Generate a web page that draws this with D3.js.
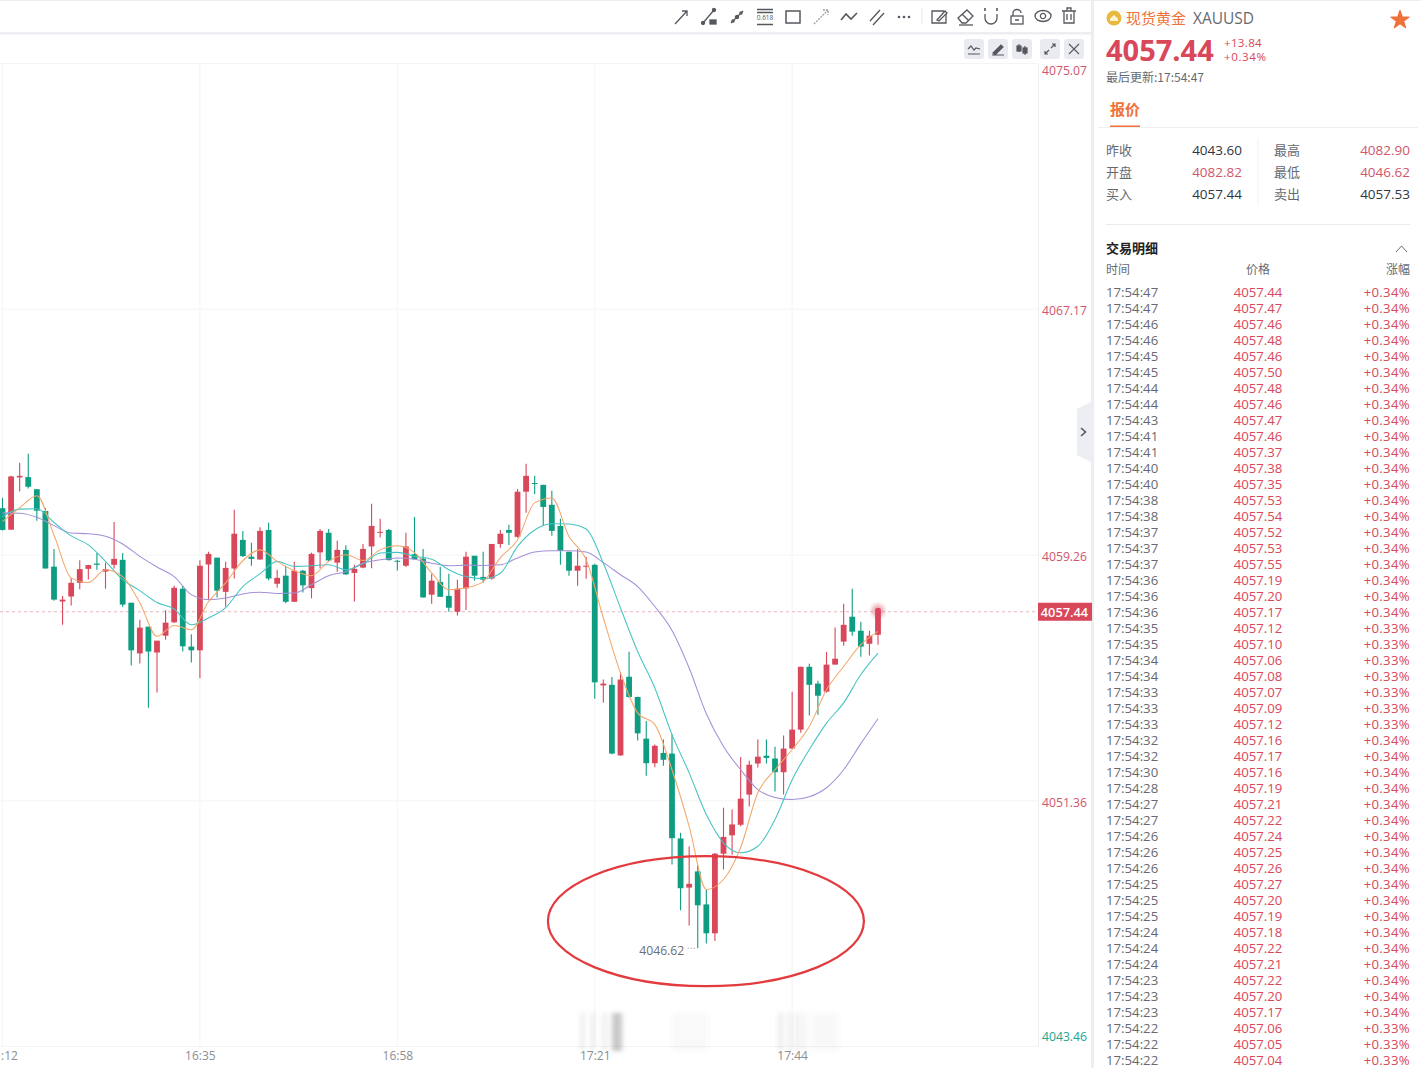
<!DOCTYPE html>
<html lang="zh-CN">
<head>
    <meta charset="UTF-8">
    <title>现货黄金 XAUUSD</title>
    <script src="https://d3js.org/d3.v7.min.js"></script>
    <style>
        html, body { margin: 0; padding: 0; background: #fff; overflow: hidden; }
        svg { display: block; }
        text { font-family: "Open Sans", "Noto Sans CJK SC", sans-serif; }
        .cjk { font-family: "Noto Sans CJK SC", sans-serif; }
    </style>
</head>
<body>
    <div id="chart"></div>
    <script>
        const width = 1421, height = 1068;

        // one candle per minute, starting 16:12
        const startMinute = 16 * 60 + 12;
        const opens = [4060.77,4060.08,4061.76,4061.77,4061.38,4060.68,4058.89,4057.77,4057.93,4058.37,4058.82,4058.99,4058.73,4058.95,4059.11,4057.73,4056.10,4056.96,4056.13,4056.67,4057.10,4058.18,4056.32,4056.20,4058.96,4059.18,4058.08,4058.83,4059.75,4059.21,4059.12,4060.07,4058.34,4058.60,4057.76,4058.76,4058.20,4059.35,4059.98,4059.02,4059.43,4058.69,4058.86,4059.54,4059.98,4060.07,4059.08,4058.92,4059.29,4059.15,4057.99,4058.40,4057.95,4057.44,4058.19,4059.24,4058.56,4058.51,4059.62,4060.07,4059.85,4061.30,4061.58,4061.52,4060.88,4060.20,4059.37,4058.76,4058.89,4058.95,4055.07,4055.09,4052.82,4055.35,4054.70,4053.36,4052.57,4052.90,4052.88,4050.15,4048.57,4049.09,4048.03,4047.10,4049.66,4050.25,4050.59,4051.56,4052.56,4052.81,4052.72,4052.28,4053.04,4053.65,4055.67,4055.13,4054.87,4055.74,4056.48,4057.28,4056.83,4056.41,4056.70];
        const highs = [4061.10,4061.81,4062.23,4062.52,4061.39,4060.78,4059.46,4057.95,4058.52,4059.10,4058.95,4059.33,4059.02,4060.33,4059.33,4057.73,4057.18,4056.96,4056.51,4057.49,4058.28,4058.28,4056.72,4059.10,4059.37,4059.18,4059.05,4060.72,4060.04,4059.66,4060.16,4060.30,4058.79,4058.92,4059.05,4058.79,4059.34,4060.10,4060.10,4059.72,4059.58,4058.95,4059.62,4060.91,4060.43,4060.10,4059.11,4059.98,4060.49,4059.46,4058.66,4058.89,4058.66,4058.47,4059.37,4059.24,4059.37,4059.62,4060.07,4060.24,4061.39,4062.20,4061.81,4061.52,4061.33,4060.43,4059.37,4059.46,4059.21,4058.98,4055.26,4055.34,4055.50,4056.15,4054.71,4053.93,4053.17,4053.33,4053.49,4050.33,4049.90,4049.28,4048.49,4049.68,4051.14,4051.08,4052.77,4052.65,4053.33,4053.33,4053.10,4053.46,4054.87,4055.67,4055.77,4055.22,4056.15,4056.93,4057.70,4058.18,4057.12,4056.83,4057.44];
        const lows = [4060.05,4060.07,4061.31,4061.40,4060.37,4058.83,4057.79,4057.02,4057.64,4058.16,4058.48,4058.79,4058.18,4058.83,4057.59,4055.71,4055.78,4054.35,4054.84,4056.54,4057.08,4056.16,4055.81,4055.30,4057.83,4057.90,4057.60,4058.51,4059.20,4058.92,4059.11,4058.45,4058.21,4057.71,4057.76,4058.06,4057.87,4058.84,4059.06,4058.73,4058.63,4057.77,4058.84,4058.84,4059.83,4059.09,4058.77,4058.88,4059.13,4057.90,4057.70,4057.92,4057.44,4057.32,4057.50,4058.44,4058.37,4058.47,4059.50,4059.59,4059.82,4060.62,4061.23,4060.20,4059.88,4058.95,4058.60,4058.28,4058.50,4054.64,4054.51,4052.86,4052.81,4054.67,4053.30,4052.17,4052.44,4052.49,4049.31,4047.84,4047.35,4046.62,4046.77,4046.85,4049.15,4049.63,4050.54,4051.18,4052.43,4052.56,4051.66,4051.56,4053.04,4053.55,4054.10,4054.13,4054.84,4055.74,4056.35,4056.67,4055.99,4056.03,4056.38];
        const closes = [4060.07,4061.79,4061.81,4061.46,4060.69,4058.83,4057.83,4057.83,4058.37,4058.81,4058.94,4058.95,4058.81,4059.14,4057.67,4056.20,4056.93,4056.16,4056.51,4057.09,4058.21,4056.33,4056.20,4058.92,4059.30,4058.12,4058.85,4059.95,4059.23,4059.14,4060.04,4058.51,4058.53,4057.76,4058.76,4058.29,4059.30,4060.04,4059.09,4059.43,4058.64,4058.82,4059.46,4060.20,4060.01,4059.10,4059.05,4059.54,4059.13,4057.90,4058.44,4057.92,4057.57,4058.18,4059.21,4058.60,4058.47,4059.62,4059.95,4059.98,4061.30,4061.81,4061.55,4060.81,4060.04,4059.40,4058.76,4058.92,4058.92,4055.17,4055.13,4052.88,4055.26,4054.70,4053.53,4052.57,4053.13,4052.68,4050.16,4048.55,4048.69,4048.00,4047.10,4049.66,4050.20,4050.60,4051.43,4052.52,4052.78,4052.74,4052.28,4053.04,4053.65,4055.67,4055.09,4054.74,4055.74,4055.93,4057.02,4056.80,4056.32,4056.67,4057.44];

        const maIndex = d3.range(52).map(i => i * 2);
        const ma5 = [4060.34,4060.78,4061.17,4059.91,4058.53,4058.38,4058.79,4058.57,4057.73,4056.65,4057.00,4056.86,4057.76,4058.37,4059.08,4059.43,4059.06,4058.76,4058.60,4059.06,4059.27,4059.09,4059.43,4059.56,4059.34,4058.69,4058.15,4058.21,4058.41,4059.18,4059.75,4060.94,4061.10,4059.86,4059.11,4057.24,4055.47,4054.19,4053.81,4052.36,4050.54,4048.51,4048.83,4049.86,4051.62,4052.36,4053.01,4053.75,4054.93,4055.68,4056.38,4056.81];
        const ma10 = [4060.50,4060.74,4060.75,4060.31,4059.88,4059.59,4059.06,4058.47,4058.12,4057.74,4057.53,4057.02,4057.24,4057.57,4058.25,4058.66,4059.06,4058.90,4058.92,4058.95,4058.79,4058.98,4059.33,4059.35,4059.22,4059.13,4058.79,4058.57,4058.50,4058.68,4059.54,4060.07,4060.27,4060.26,4060.10,4059.00,4057.56,4056.16,4054.99,4053.49,4052.26,4050.92,4050.01,4049.69,4049.90,4050.76,4052.04,4053.01,4053.86,4054.51,4055.42,4056.11];
        const ma30 = [4060.62,4060.61,4060.48,4060.21,4059.97,4059.95,4059.87,4059.62,4059.22,4058.88,4058.57,4057.99,4057.83,4057.88,4058.01,4058.07,4058.03,4058.04,4058.31,4058.60,4058.73,4059.00,4059.11,4059.17,4059.13,4059.00,4058.92,4058.94,4058.93,4058.95,4059.17,4059.36,4059.40,4059.40,4059.36,4059.02,4058.63,4058.25,4057.61,4056.84,4055.63,4054.16,4053.11,4052.36,4051.72,4051.47,4051.40,4051.49,4051.78,4052.36,4053.20,4054.00];

        const priceTicks = [4043.46, 4051.36, 4059.26, 4067.17, 4075.07];
        const timeTicks = [0, 23, 46, 69, 92];
        const lastPrice = 4057.44, lowPrice = 4046.62, lowIndex = 81;

        // quote panel
        const quoteLeft = [["昨收", "4043.60", 0], ["开盘", "4082.82", 1], ["买入", "4057.44", 0]];
        const quoteRight = [["最高", "4082.90", 1], ["最低", "4046.62", 1], ["卖出", "4057.53", 0]];
        const tradeTimes = ["17:54:47","17:54:47","17:54:46","17:54:46","17:54:45","17:54:45","17:54:44","17:54:44","17:54:43","17:54:41","17:54:41","17:54:40","17:54:40","17:54:38","17:54:38","17:54:37","17:54:37","17:54:37","17:54:36","17:54:36","17:54:36","17:54:35","17:54:35","17:54:34","17:54:34","17:54:33","17:54:33","17:54:33","17:54:32","17:54:32","17:54:30","17:54:28","17:54:27","17:54:27","17:54:26","17:54:26","17:54:26","17:54:25","17:54:25","17:54:25","17:54:24","17:54:24","17:54:24","17:54:23","17:54:23","17:54:23","17:54:22","17:54:22","17:54:22"];
        const tradePrices = ["4057.44","4057.47","4057.46","4057.48","4057.46","4057.50","4057.48","4057.46","4057.47","4057.46","4057.37","4057.38","4057.35","4057.53","4057.54","4057.52","4057.53","4057.55","4057.19","4057.20","4057.17","4057.12","4057.10","4057.06","4057.08","4057.07","4057.09","4057.12","4057.16","4057.17","4057.16","4057.19","4057.21","4057.22","4057.24","4057.25","4057.26","4057.27","4057.20","4057.19","4057.18","4057.22","4057.21","4057.22","4057.20","4057.17","4057.06","4057.05","4057.04"];
        const tradePcts = ["+0.34%","+0.34%","+0.34%","+0.34%","+0.34%","+0.34%","+0.34%","+0.34%","+0.34%","+0.34%","+0.34%","+0.34%","+0.34%","+0.34%","+0.34%","+0.34%","+0.34%","+0.34%","+0.34%","+0.34%","+0.34%","+0.33%","+0.33%","+0.33%","+0.33%","+0.33%","+0.33%","+0.33%","+0.34%","+0.34%","+0.34%","+0.34%","+0.34%","+0.34%","+0.34%","+0.34%","+0.34%","+0.34%","+0.34%","+0.34%","+0.34%","+0.34%","+0.34%","+0.34%","+0.34%","+0.34%","+0.33%","+0.33%","+0.33%"];

        const red = "#d9475a", green = "#0f9d82", grey = "#666a70", orange = "#f0703a";
        const axisRed = "#d0566a", axisGreen = "#22a68d";

        const svg = d3.select("#chart").append("svg").attr("width", width).attr("height", height);

        const x = d3.scaleLinear().domain([0, 102]).range([2.5, 878]);
        const y = d3.scaleLinear().domain([4043.46, 4075.07]).range([1046.5, 63.5]);
        const plotRight = 1038;

        // page frame
        svg.append("rect").attr("x", 0).attr("y", 32).attr("width", 1091).attr("height", 2.5).attr("fill", "#eceef1");
        svg.append("rect").attr("x", 0).attr("y", 0).attr("width", 1091).attr("height", 1).attr("fill", "#eceef1");
        svg.append("rect").attr("x", 1091).attr("y", 0).attr("width", 3).attr("height", height).attr("fill", "#eceef1");
        svg.append("rect").attr("x", 1094).attr("y", 0).attr("width", 327).attr("height", 1).attr("fill", "#eceef1");

        // grid
        svg.append("g").selectAll("line").data(priceTicks).enter().append("line")
            .attr("x1", 0).attr("x2", plotRight)
            .attr("y1", d => y(d)).attr("y2", d => y(d))
            .attr("stroke", "#f4f4f5");
        svg.append("g").selectAll("line").data(timeTicks).enter().append("line")
            .attr("x1", d => x(d)).attr("x2", d => x(d))
            .attr("y1", y(4075.07)).attr("y2", y(4043.46))
            .attr("stroke", "#f4f4f5");

        // right axis
        const yAxis = d3.axisRight(y).tickValues(priceTicks).tickFormat(d3.format(".2f")).tickSize(0).tickPadding(4);
        const yAxisG = svg.append("g").attr("transform", `translate(${plotRight},0)`).call(yAxis);
        yAxisG.select(".domain").attr("stroke", "#eeeff1");
        yAxisG.selectAll("text")
            .attr("font-size", 12.2)
            .attr("fill", d => d === 4043.46 ? axisGreen : axisRed)
            .attr("dy", d => d === 4075.07 ? 11 : d === 4043.46 ? -6 : 5.5);
        yAxisG.selectAll("text").attr("x", 4);

        // time axis
        const xAxis = d3.axisBottom(x).tickValues(timeTicks).tickSize(0).tickPadding(5)
            .tickFormat(d => {
                const m = startMinute + d;
                return d3.format("02")(Math.floor(m / 60)) + ":" + d3.format("02")(m % 60);
            });
        const xAxisG = svg.append("g").attr("transform", `translate(0,${y(4043.46)})`).call(xAxis);
        xAxisG.select(".domain").remove();
        xAxisG.selectAll("text").attr("font-size", 12).attr("fill", "#8b8e93");
        // the first label runs off the left edge, only its tail shows
        xAxisG.selectAll("text").filter(d => d === 0)
            .text(":12").attr("text-anchor", "start").attr("x", 0.5 - x(0));

        // last price line
        svg.append("line")
            .attr("x1", 0).attr("x2", plotRight)
            .attr("y1", y(lastPrice)).attr("y2", y(lastPrice))
            .attr("stroke", "#e4b3ba").attr("stroke-dasharray", "3,3");

        // candles
        const candles = opens.map((o, i) => ({ i, o, h: highs[i], l: lows[i], c: closes[i] }));
        const candle = svg.append("g").selectAll("g").data(candles).enter().append("g")
            .attr("fill", d => d.c >= d.o ? red : green)
            .attr("stroke", d => d.c >= d.o ? red : green);
        candle.append("line")
            .attr("x1", d => x(d.i)).attr("x2", d => x(d.i))
            .attr("y1", d => y(d.h)).attr("y2", d => y(d.l))
            .attr("stroke-width", 1.1);
        candle.append("rect")
            .attr("x", d => x(d.i) - 2.9)
            .attr("width", 5.8)
            .attr("y", d => y(Math.max(d.o, d.c)))
            .attr("height", d => Math.max(1, Math.abs(y(d.o) - y(d.c))))
            .attr("stroke", "none");

        // moving averages
        const line = d3.line().x((d, i) => x(maIndex[i])).y(d => y(d)).curve(d3.curveMonotoneX);
        [[ma30, "#a48fd8"], [ma10, "#45c3c4"], [ma5, "#f3a76a"]].forEach(([vals, col]) => {
            svg.append("path").attr("d", line(vals)).attr("fill", "none").attr("stroke", col).attr("stroke-width", 1.05);
        });

        const defs = svg.append("defs");
        defs.append("filter").attr("id", "wm").append("feGaussianBlur").attr("stdDeviation", "2.5,2");
        defs.append("filter").attr("id", "glow").append("feGaussianBlur").attr("stdDeviation", "2");

        // pulsing dot on the last candle
        svg.append("circle").attr("cx", x(102)).attr("cy", y(lastPrice) - 1).attr("r", 6.5).attr("fill", red).attr("opacity", 0.45).attr("filter", "url(#glow)");
        svg.append("circle").attr("cx", x(102)).attr("cy", y(lastPrice) - 1).attr("r", 3).attr("fill", red);

        // low marker
        svg.append("text").attr("x", x(lowIndex) - 13.5).attr("y", y(lowPrice) + 7)
            .attr("text-anchor", "end").attr("font-size", 12.2).attr("fill", "#6b6f75").text("4046.62");
        svg.append("line")
            .attr("x1", x(lowIndex) - 10).attr("x2", x(lowIndex) - 1)
            .attr("y1", y(lowPrice)).attr("y2", y(lowPrice))
            .attr("stroke", "#8b8e93").attr("stroke-dasharray", "1,2");

        // hand drawn ellipse round the low
        svg.append("ellipse")
            .attr("cx", x(81.95)).attr("cy", y(4047.49))
            .attr("rx", 158).attr("ry", 65)
            .attr("fill", "none").attr("stroke", "#e33a3e").attr("stroke-width", 2.2);

        // price tag
        svg.append("rect").attr("x", plotRight).attr("y", y(lastPrice) - 9).attr("width", 54).attr("height", 18).attr("fill", red);
        svg.append("text").attr("x", plotRight + 26.5).attr("y", y(lastPrice) + 5)
            .attr("text-anchor", "middle").attr("font-size", 12.8).attr("font-weight", 600)
            .attr("fill", "#fff").text("4057.44");

        // blurred watermark over the time axis
        const wm = svg.append("g").attr("filter", "url(#wm)");
        [[581, 3, .16], [591, 3, .14], [603, 3, .16], [612, 10, .32], [672, 36, .035], [779, 3, .18], [788, 3, .15], [796, 3, .15], [803, 3, .1], [812, 26, .04]]
            .forEach(([bx, bw, op]) => {
                wm.append("rect").attr("x", bx).attr("y", 1013).attr("width", bw).attr("height", 38).attr("fill", "#555").attr("opacity", op);
            });

        // toolbar icons
        const icon = (tx, ty, draw) => {
            const g = svg.append("g").attr("transform", `translate(${tx},${ty})`)
                .attr("fill", "none").attr("stroke", "#55585e").attr("stroke-width", 1.3);
            draw(g);
        };
        icon(681, 17, g => {
            g.append("path").attr("d", "M-6,7 L6,-6 M1,-6 H6 V-1");
        });
        icon(709, 17, g => {
            g.append("path").attr("d", "M-6,6 L5,-7");
            g.append("rect").attr("x", 1).attr("y", 3).attr("width", 6).attr("height", 4).attr("fill", "#55585e");
            g.append("circle").attr("cx", -6).attr("cy", 6).attr("r", 1.5).attr("fill", "#55585e");
            g.append("circle").attr("cx", 5).attr("cy", -7).attr("r", 1.5).attr("fill", "#55585e");
        });
        icon(737, 17, g => {
            g.append("path").attr("d", "M-6,6 L6,-6");
            g.append("circle").attr("r", 1.6).attr("fill", "#55585e");
            g.append("circle").attr("cx", -4).attr("cy", 4).attr("r", 1.1).attr("fill", "#55585e");
            g.append("circle").attr("cx", 4).attr("cy", -4).attr("r", 1.1).attr("fill", "#55585e");
        });
        icon(765, 17, g => {
            g.append("path").attr("d", "M-8,-7.5 H8 M-8,-4.5 H8 M-8,7.5 H8").attr("stroke-width", 1.6);
            g.append("text").attr("y", 3).attr("text-anchor", "middle").attr("font-size", 6.5).attr("fill", "#55585e").attr("stroke", "none").text("0.618");
        });
        icon(793, 17, g => {
            g.append("rect").attr("x", -7).attr("y", -6).attr("width", 14).attr("height", 12).attr("stroke-width", 1.5);
        });
        icon(821, 17, g => {
            g.append("path").attr("d", "M-7,7 L7,-7 M2,-7 H7 V-2").attr("stroke", "#9a9da2").attr("stroke-dasharray", "2,1");
        });
        icon(849, 17, g => {
            g.append("path").attr("d", "M-8,3 L-3,-3 L2,2 L8,-4").attr("stroke-width", 1.6);
        });
        icon(877, 17, g => {
            g.append("path").attr("d", "M-7,4 L3,-7 M-4,8 L7,-4");
        });
        icon(904, 17, g => {
            [-5, 0, 5].forEach(c => g.append("circle").attr("cx", c).attr("r", 1.3).attr("fill", "#55585e").attr("stroke", "none"));
        });
        svg.append("line").attr("x1", 922).attr("x2", 922).attr("y1", 8).attr("y2", 24).attr("stroke", "#e8e9ec");
        icon(939, 17, g => {
            g.append("path").attr("d", "M5,-6 H-7 V6 H7 V-3");
            g.append("path").attr("d", "M-2,3 L6,-6 L8,-4 L0,4 Z");
        });
        icon(965, 16, g => {
            g.append("path").attr("d", "M-7,2 L2,-6 L8,0 L1,7 H-3 Z M-3,-2 L4,5");
            g.append("path").attr("d", "M-6,9 H8");
        });
        icon(991, 16, g => {
            g.append("path").attr("d", "M-6,-2 V2 A6,6 0 0 0 6,2 V-2");
            g.append("path").attr("d", "M-6,-8 V-5 M6,-8 V-5").attr("stroke-width", 1.6);
        });
        icon(1017, 17, g => {
            g.append("rect").attr("x", -6).attr("y", -1).attr("width", 12).attr("height", 8);
            g.append("path").attr("d", "M-4,-1 V-4 A4,3.5 0 0 1 4,-4 M-2,3 H2");
        });
        icon(1043, 16, g => {
            g.append("ellipse").attr("rx", 8).attr("ry", 5.5);
            g.append("circle").attr("r", 2.6);
        });
        icon(1069, 16, g => {
            g.append("path").attr("d", "M-7,-5 H7 M-5,-5 V7 H5 V-5 M-2,-5 V-8 H2 V-5 M-2,-2 V4 M2,-2 V4");
        });

        // small chart buttons
        const button = (cx, draw) => {
            svg.append("rect").attr("x", cx - 10).attr("y", 39).attr("width", 20).attr("height", 20).attr("rx", 3).attr("fill", "#e9ebf0");
            const g = svg.append("g").attr("transform", `translate(${cx},49)`).attr("fill", "none").attr("stroke", "#55585e").attr("stroke-width", 1.2);
            draw(g);
        };
        button(974, g => g.append("path").attr("d", "M-6,0 L-3,-3 L0,1 L2,-1 L6,0 M-6,5 H6"));
        button(998, g => g.append("path").attr("d", "M-5,4 L3,-4 L5,-2 L-3,6 Z M-6,6 H6").attr("fill", "#55585e"));
        button(1022, g => {
            g.append("path").attr("d", "M-3,-5 V3 M3,-3 V6");
            g.append("rect").attr("x", -5).attr("y", -3).attr("width", 4).attr("height", 5).attr("fill", "#55585e");
            g.append("rect").attr("x", 1).attr("y", -1).attr("width", 4).attr("height", 5).attr("fill", "#55585e");
        });
        button(1050, g => g.append("path").attr("d", "M-5,5 L-1,1 M1,-1 L5,-5 M2,-5 H5 V-2 M-5,2 V5 H-2"));
        button(1074, g => g.append("path").attr("d", "M-5,-5 L5,5 M5,-5 L-5,5").attr("stroke-width", 1.1));

        // collapse tab
        svg.append("path").attr("d", "M1091,402 L1077,409 V455 L1091,462 Z").attr("fill", "#eceef3");
        svg.append("path").attr("d", "M1081,428 L1085.5,432 L1081,436").attr("fill", "none").attr("stroke", "#55585e").attr("stroke-width", 1.6);

        // side panel
        const panel = svg.append("g");
        const label = (tx, ty, txt, size, fill, anchor, cls, weight) => {
            return panel.append("text").attr("x", tx).attr("y", ty).attr("font-size", size).attr("fill", fill)
                .attr("text-anchor", anchor || "start").attr("class", cls || null)
                .attr("font-weight", weight || 400).text(txt);
        };

        panel.append("circle").attr("cx", 1114).attr("cy", 18).attr("r", 7.5).attr("fill", "#e8b93f");
        panel.append("path").attr("d", "M1110,21 V18.5 L1114,15 L1118,18.5 V21 Z").attr("fill", "#fbf2d4");
        label(1126, 24, "现货黄金", 15, orange, "start", "cjk");
        label(1193, 24, "XAUUSD", 15.5, grey);
        panel.append("path")
            .attr("d", d3.symbol().type(d3.symbolStar).size(95)())
            .attr("transform", "translate(1400,20)").attr("fill", orange)
            .attr("stroke", orange).attr("stroke-width", 1.5).attr("stroke-linejoin", "round");

        label(1106, 61, "4057.44", 29, red, "start", null, 700);
        label(1224, 46.5, "+13.84", 11.6, red).attr("letter-spacing", 0.3);
        label(1224, 60.5, "+0.34%", 11.6, red).attr("letter-spacing", 0.6);
        label(1106, 82, "最后更新:17:54:47", 12, grey, "start", "cjk");

        label(1110, 115, "报价", 15, orange, "start", "cjk", 700);
        panel.append("rect").attr("x", 1110).attr("y", 125.5).attr("width", 30).attr("height", 2).attr("fill", orange);
        panel.append("line").attr("x1", 1098).attr("x2", 1418).attr("y1", 127.5).attr("y2", 127.5).attr("stroke", "#eeeff1");

        quoteLeft.forEach((d, i) => {
            label(1106, 155 + i * 22, d[0], 13, grey, "start", "cjk");
            label(1242, 155 + i * 22, d[1], 13.5, d[2] ? "#d0566a" : "#33363b", "end");
        });
        panel.append("line").attr("x1", 1258).attr("x2", 1258).attr("y1", 138).attr("y2", 204).attr("stroke", "#f1f2f4");
        quoteRight.forEach((d, i) => {
            label(1274, 155 + i * 22, d[0], 13, grey, "start", "cjk");
            label(1410, 155 + i * 22, d[1], 13.5, d[2] ? "#d0566a" : "#33363b", "end");
        });
        panel.append("line").attr("x1", 1106).attr("x2", 1410).attr("y1", 224.5).attr("y2", 224.5).attr("stroke", "#e9eaed");

        label(1106, 253, "交易明细", 13, "#222", "start", "cjk", 700);
        panel.append("path").attr("d", "M1396,252 L1401.5,246 L1407,252").attr("fill", "none").attr("stroke", "#666a70");
        label(1106, 274, "时间", 12, grey, "start", "cjk");
        label(1258, 274, "价格", 12, grey, "middle", "cjk");
        label(1410, 274, "涨幅", 12, grey, "end", "cjk");

        const rowY = d3.scaleLinear().domain([0, 48]).range([297, 1065]);
        const rows = panel.append("g").attr("font-size", 13.2).selectAll("g").data(tradeTimes).enter().append("g");
        rows.append("text").attr("x", 1106).attr("y", (d, i) => rowY(i)).attr("fill", grey).text(d => d);
        rows.append("text").attr("x", 1258).attr("y", (d, i) => rowY(i)).attr("fill", red)
            .attr("text-anchor", "middle").text((d, i) => tradePrices[i]);
        rows.append("text").attr("x", 1410).attr("y", (d, i) => rowY(i)).attr("fill", red)
            .attr("text-anchor", "end").attr("letter-spacing", 0.3).text((d, i) => tradePcts[i]);
    </script>
</body>
</html>
